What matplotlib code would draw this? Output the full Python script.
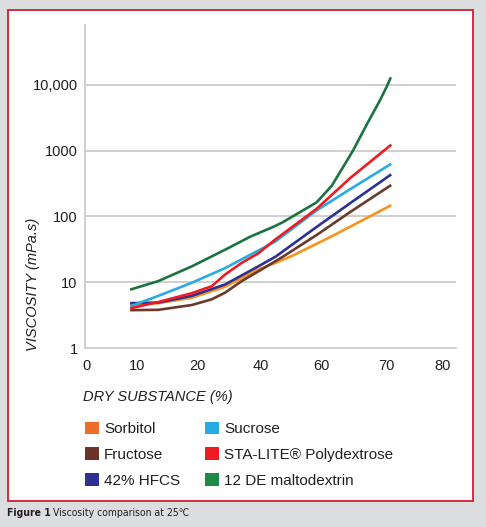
import matplotlib
matplotlib.use("Agg")
import matplotlib.pyplot as plt
from matplotlib.patches import Rectangle, Patch

# ---------------- data ----------------
series_names = ["Sorbitol", "Fructose", "42% HFCS", "Sucrose",
                "STA-LITE® Polydextrose", "12 DE maltodextrin"]

sorbitol_x = [10, 16.5, 24.2, 31.8, 39.5, 43.3, 47.5, 56.7, 70.1]
sorbitol_y = [4.5, 4.8, 5.8, 8.5, 15.6, 19.5, 25.5, 51, 148]

fructose_x = [10, 16.5, 24.2, 28.8, 31.8, 35.7, 39.5, 43.3, 45.2, 52.9, 60.6, 70.1]
fructose_y = [3.76, 3.8, 4.5, 5.5, 6.9, 10.4, 14.6, 20.6, 24.5, 52, 116, 300]

hfcs_x = [10, 16.5, 24.2, 31.8, 39.5, 43.5, 52.9, 60.6, 70.1]
hfcs_y = [4.8, 4.9, 6.2, 9.2, 17.4, 24.5, 69, 158, 435]

sucrose_x = [10, 16.5, 24.2, 31.8, 37.6, 43.3, 52.9, 60.6, 70.1]
sucrose_y = [4.3, 6.2, 9.8, 16.3, 26, 41, 123, 258, 630]

polydex_x = [10, 16.5, 24.2, 28.8, 31.8, 35.6, 39.5, 43.3, 52.9, 60.6, 70.1]
polydex_y = [4.0, 5.0, 6.8, 8.7, 13, 19.5, 27.5, 44, 130, 380, 1230]

malto_x = [10, 16.5, 24.2, 31.8, 37.6, 43.3, 45.2, 52.9, 56.4, 59, 61.3, 64.4, 67.5, 69.2, 70]
malto_y = [7.7, 10.4, 17.4, 31, 49, 71, 82, 163, 292, 560, 1000, 2450, 5800, 9800, 13000]

xtick_pos = [0, 11.5, 25.5, 40, 54, 69, 82]
xtick_labels = ["0", "10", "20", "40", "60", "70", "80"]
ytick_pos = [1, 10, 100, 1000, 10000]
ytick_labels = ["1", "10", "100", "1000", "10,000"]

line_colors = ["#F7941D", "#6B3A2A", "#2E3192", "#29ABE2", "#ED1C24", "#1A7340"]
legend_colors = ["#F26B2B", "#6B3428", "#2E3192", "#29ABE2", "#ED1C24", "#1F8A45"]

# ---------------- figure ----------------
W, H = 486, 527
fig = plt.figure(figsize=(W / 100, H / 100), dpi=100)
fig.patch.set_facecolor("#DCDDDF")
FONT = ["Liberation Sans", "DejaVu Sans"]
plt.rcParams["font.family"] = FONT

def fx(px):
    return px / W

def fy(py):
    return 1 - py / H

# red frame
fig.add_artist(Rectangle((fx(8.3), fy(501)), fx(473) - fx(8.3), fy(10.3) - fy(501),
                         transform=fig.transFigure, facecolor="white",
                         edgecolor="#CE1F2F", lw=1.3, zorder=0))

ax = fig.add_axes([fx(84.5), fy(348), fx(456) - fx(84.5), fy(25) - fy(348)])
ax.set_facecolor("none")

all_x = [sorbitol_x, fructose_x, hfcs_x, sucrose_x, polydex_x, malto_x]
all_y = [sorbitol_y, fructose_y, hfcs_y, sucrose_y, polydex_y, malto_y]
order = [1, 0, 2, 3, 4, 5]
for i in order:
    ax.plot(all_x[i], all_y[i], color=line_colors[i], lw=1.9,
            solid_capstyle="butt", solid_joinstyle="round", zorder=3 + i)

ax.set_yscale("log")
ax.set_ylim(1, 81000)
ax.set_xlim(-0.5, 85)
ax.set_yticks(ytick_pos)
ax.set_yticklabels(ytick_labels)
ax.minorticks_off()
ax.set_xticks(xtick_pos)
ax.set_xticklabels(xtick_labels)
ax.tick_params(length=0, labelsize=10.5, colors="#231F20")
ax.tick_params(axis="y", pad=5)
ax.tick_params(axis="x", pad=8)
ax.grid(axis="y", color="#CFCFCF", lw=1.4)
ax.grid(axis="x", visible=False)
for s in ["top", "right"]:
    ax.spines[s].set_visible(False)
for s in ["left", "bottom"]:
    ax.spines[s].set_color("#CFCFCF")
    ax.spines[s].set_linewidth(1.4)

fig.text(fx(33), fy(284), "VISCOSITY (mPa.s)", rotation=90, style="italic",
         fontsize=10.5, ha="center", va="center", color="#231F20")
fig.text(fx(83), fy(397.5), "DRY SUBSTANCE (%)", style="italic",
         fontsize=10.5, ha="left", va="center", color="#231F20")

handles = [Patch(facecolor=c, edgecolor="none") for c in legend_colors]
leg = fig.legend(handles, series_names, loc="upper left",
                 bbox_to_anchor=(fx(84.5), fy(421.5)), ncol=2, frameon=False,
                 fontsize=11, handlelength=0.92, handleheight=0.92,
                 handletextpad=0.35, labelspacing=0.725, columnspacing=1.63,
                 borderpad=0, borderaxespad=0)
for t in leg.get_texts():
    t.set_color("#231F20")

# caption
cap_font = ["DejaVu Sans", "Liberation Sans"]
t1 = fig.text(fx(7), fy(512.5), "Figure 1", fontsize=7.5, fontweight="bold",
              family=cap_font, fontstretch="condensed",
              ha="left", va="center", color="#231F20")
fig.canvas.draw()
bb = t1.get_window_extent()
fig.text((bb.x1 + 2) / W, fy(512.5), "Viscosity comparison at 25℃", fontsize=7.5,
         family=cap_font, fontstretch="condensed",
         ha="left", va="center", color="#231F20")

fig.savefig("out.png", dpi=100, facecolor=fig.get_facecolor())
